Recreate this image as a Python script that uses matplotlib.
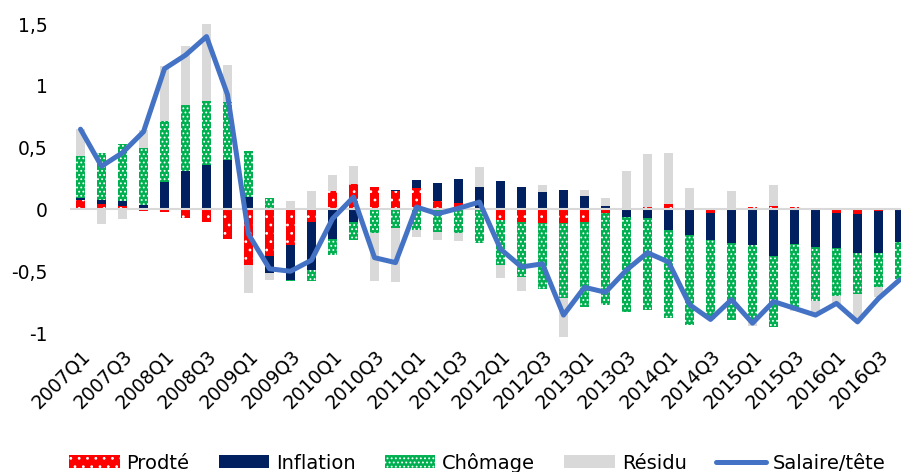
import numpy as np
import matplotlib.pyplot as plt

quarters = [f"{year}Q{q}" for year in range(2007, 2017) for q in range(1, 5)]

# contributions to wage growth per head (points)
prodte = [0.08, 0.045, 0.03, -0.01, -0.02, -0.07, -0.10, -0.24, -0.45, -0.38,
          -0.29, -0.10, 0.15, 0.21, 0.185, 0.15, 0.175, 0.065, 0.05, 0.0,
          -0.083, -0.10, -0.11, -0.11, -0.10, -0.03, 0.0, 0.02, 0.045, 0.005,
          -0.03, 0.0, 0.02, 0.03, 0.02, 0.005, -0.03, -0.04, -0.01, 0.0]
inflation = [0.01, 0.035, 0.04, 0.035, 0.22, 0.31, 0.36, 0.40, 0.105, -0.135,
             -0.28, -0.39, -0.24, -0.10, 0.0, 0.01, 0.06, 0.15, 0.196, 0.185,
             0.234, 0.185, 0.145, 0.16, 0.11, 0.025, -0.06, -0.07, -0.17, -0.21,
             -0.215, -0.27, -0.29, -0.38, -0.28, -0.30, -0.28, -0.31, -0.34, -0.26]
chomage = [0.34, 0.38, 0.46, 0.46, 0.50, 0.54, 0.52, 0.47, 0.37, 0.094,
           -0.005, -0.086, -0.13, -0.15, -0.19, -0.15, -0.17, -0.18, -0.19, -0.27,
           -0.37, -0.45, -0.53, -0.61, -0.69, -0.74, -0.77, -0.74, -0.71, -0.725,
           -0.645, -0.625, -0.605, -0.57, -0.51, -0.44, -0.39, -0.335, -0.28, -0.30]
residu = [0.22, -0.12, -0.08, 0.15, 0.44, 0.47, 0.62, 0.30, -0.23, -0.054,
          0.07, 0.15, 0.13, 0.14, -0.385, -0.435, -0.054, -0.07, -0.065, 0.16,
          -0.10, -0.11, 0.05, -0.31, 0.05, 0.07, 0.31, 0.43, 0.41, 0.17,
          0.0, 0.153, -0.05, 0.165, -0.03, -0.11, -0.07, -0.21, -0.08, 0.0]
salaire = [0.65, 0.35, 0.46, 0.63, 1.14, 1.25, 1.40, 0.93, -0.20, -0.48,
           -0.50, -0.41, -0.075, 0.10, -0.39, -0.43, 0.02, -0.035, 0.01, 0.06,
           -0.32, -0.465, -0.44, -0.855, -0.63, -0.67, -0.49, -0.35, -0.425, -0.77,
           -0.89, -0.73, -0.92, -0.745, -0.80, -0.855, -0.76, -0.91, -0.72, -0.57]

plt.rcParams['font.family'] = ['DejaVu Sans']
plt.rcParams['hatch.linewidth'] = 0.8

fig = plt.figure(figsize=(9.01, 4.72), dpi=100)
ax = fig.add_axes([0.0777, 0.2814, 0.9323, 0.6725])

x = np.arange(len(quarters))
series = [
    (prodte, 'Prodté', dict(color='#FF0000', hatch='..', edgecolor='white')),
    (inflation, 'Inflation', dict(color='#002060')),
    (chomage, 'Chômage', dict(color='#00B050', hatch='....', edgecolor='white')),
    (residu, 'Résidu', dict(color='#D9D9D9')),
]

# excel-style stacking: positives go up from 0, negatives go down from 0
pos = np.zeros(len(x))
neg = np.zeros(len(x))
handles = []
for vals, name, style in series:
    vals = np.asarray(vals)
    base = np.where(vals >= 0, pos, neg)
    bars = ax.bar(x, vals, bottom=base, width=0.4, linewidth=0, label=name,
                  zorder=2, **style)
    handles.append(bars)
    pos += np.clip(vals, 0, None)
    neg += np.clip(vals, None, 0)

ax.axhline(0, color='#D9D9D9', lw=1.5, zorder=3)
line, = ax.plot(x, salaire, color='#4472C4', lw=3.6, zorder=4,
                solid_joinstyle='round', solid_capstyle='round', label='Salaire/tête')
handles.append(line)

ax.set_xlim(-0.5, 39.5)
ax.set_ylim(-1.05, 1.52)
yt = [-1, -0.5, 0, 0.5, 1, 1.5]
ax.set_yticks(yt)
ax.set_yticklabels([f"{v:g}".replace('.', ',') for v in yt], fontsize=13.5)
ax.set_xticks(x[::2])
ax.set_xticklabels(quarters[::2], fontsize=13.5, rotation=45, ha='right',
                   va='top', rotation_mode='anchor')
ax.tick_params(axis='both', length=0)
ax.tick_params(axis='y', pad=16)
ax.tick_params(axis='x', pad=5)
for s in ax.spines.values():
    s.set_visible(False)

fig.legend(handles=handles, loc='center', bbox_to_anchor=(0.53, 0.02), ncol=5,
           frameon=False, fontsize=14, handlelength=2.6, handleheight=0.65,
           handletextpad=0.35, columnspacing=1.5, borderaxespad=0, borderpad=0)

fig.savefig('out.png', dpi=100)
